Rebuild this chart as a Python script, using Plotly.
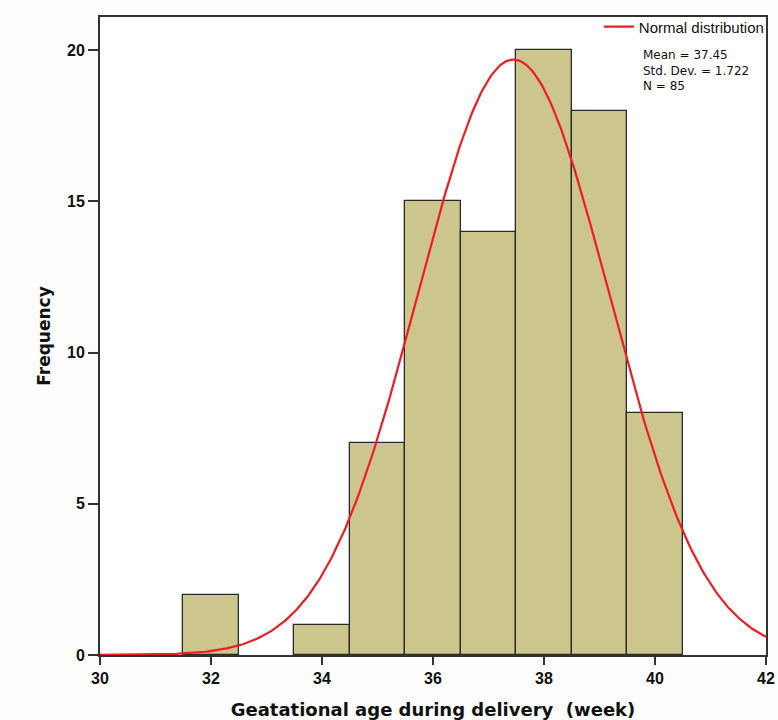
import numpy as np
import plotly.graph_objects as go

# Data
week_centers = [32, 34, 35, 36, 37, 38, 39, 40]
frequency = [2, 1, 7, 15, 14, 20, 18, 8]
x_ticks = [30, 32, 34, 36, 38, 40, 42]
y_ticks = [0, 5, 10, 15, 20]
mean_val = 37.45
std_val = 1.722
n_val = 85
bin_width = 1
stats_lines = [f"Mean = {mean_val}", f"Std. Dev. = {std_val}", f"N = {n_val}"]

# Fitted normal curve from the stated parameters
xs = np.linspace(30, 42, 400)
ys = n_val * bin_width / (std_val * np.sqrt(2 * np.pi)) * np.exp(-0.5 * ((xs - mean_val) / std_val) ** 2)

fig = go.Figure()
fig.add_trace(go.Bar(
    x=week_centers, y=frequency, width=1,
    marker=dict(color="#CCC68D", line=dict(color="#2a2a2a", width=1.3)),
    showlegend=False, hoverinfo="x+y",
))
fig.add_trace(go.Scatter(
    x=xs, y=ys, mode="lines", name="Normal distribution",
    line=dict(color="#EE1C24", width=2.2), showlegend=True,
))

fig.add_annotation(
    xref="paper", yref="paper", x=0.8134, y=0.953, xanchor="left", yanchor="top",
    text="<br>".join(stats_lines), showarrow=False, align="left", borderpad=0,
    font=dict(family="DejaVu Sans", size=12, color="#111"),
)

fig.update_layout(
    width=778, height=720,
    margin=dict(l=100, r=8, t=17, b=65),
    paper_bgcolor="#FDFDFD", plot_bgcolor="white",
    bargap=0,
    legend=dict(x=0.749, xanchor="left", y=1.0103, yanchor="top",
                bgcolor="rgba(0,0,0,0)", borderwidth=0,
                font=dict(family="Liberation Sans, Arial", size=15, color="#111"),
                itemwidth=30, tracegroupgap=0),
    xaxis=dict(range=[30, 42], tickvals=x_ticks, ticks="outside", ticklen=8,
               tickwidth=1.5, tickcolor="#333", showgrid=False, zeroline=False,
               showline=True, linecolor="#333", linewidth=1.8, mirror=True,
               automargin=False,
               tickfont=dict(family="Liberation Sans, Arial", size=16, color="#111", weight="bold"),
               title=dict(text="Geatational age during delivery  (week)",
                          font=dict(family="DejaVu Sans", size=18, color="#111", weight="bold"),
                          standoff=18)),
    yaxis=dict(range=[0, 21.1], tickvals=y_ticks, ticks="outside", ticklen=10,
               tickwidth=1.5, tickcolor="#333", showgrid=False, zeroline=False,
               showline=True, linecolor="#333", linewidth=1.8, mirror=True,
               automargin=False,
               tickfont=dict(family="Liberation Sans, Arial", size=16, color="#111", weight="bold"),
               title=dict(text="Frequency",
                          font=dict(family="DejaVu Sans", size=17, color="#111", weight="bold"),
                          standoff=12)),
)

fig.write_html(
    "out.html",
    config={"displayModeBar": False},
    post_script="document.body.style.margin='0';document.body.style.overflow='hidden';",
)
